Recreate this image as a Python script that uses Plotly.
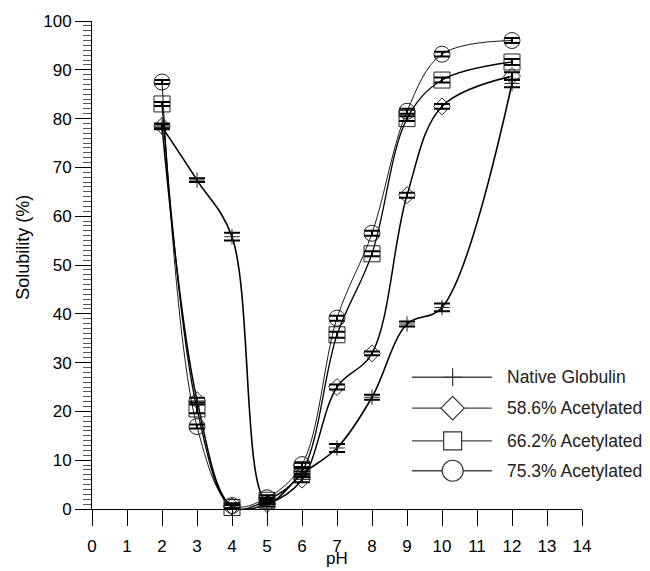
import plotly.graph_objects as go

# ---- data ----
ph = [2, 3, 4, 5, 6, 7, 8, 9, 10, 12]
native = [78.3, 67.4, 55.8, 1.5, 7.2, 12.5, 22.9, 37.9, 41.3, 87.2]
ac586 = [78.5, 22.3, 0.5, 1.0, 6.0, 25.0, 31.9, 64.3, 82.5, 88.7]
ac662 = [83.0, 20.5, 0.3, 1.8, 7.7, 35.7, 52.3, 80.0, 87.9, 91.6]
ac753 = [87.5, 16.9, 0.7, 2.3, 9.1, 39.1, 56.5, 81.5, 93.2, 96.0]
err_native = [0.5, 0.4, 0.8, 0.5, 0.5, 0.8, 0.5, 0.5, 0.8, 0.8]
err_586 = [0.5, 0.5, 0.5, 0.5, 0.5, 0.5, 0.4, 0.5, 0.5, 0.8]
err_662 = [0.4, 0.9, 0.5, 0.5, 0.6, 0.6, 0.5, 0.5, 0.5, 0.6]
err_753 = [0.4, 0.4, 0.5, 0.5, 0.5, 0.5, 0.5, 0.5, 0.5, 0.5]
series_names = ["Native Globulin", "58.6% Acetylated", "66.2% Acetylated", "75.3% Acetylated"]
x_ticks = list(range(0, 15))
x_title = "pH"
y_title = "Solubility (%)"

FONT = "Liberation Sans, Arial, Helvetica, sans-serif"

styles = [
    dict(y=native, err=err_native, sym="cross-thin-open", size=11, lw=1.6, legsize=13),
    dict(y=ac586, err=err_586, sym="diamond-open", size=13, lw=1.5, legsize=18),
    dict(y=ac662, err=err_662, sym="square-open", size=16, lw=1.3, legsize=18),
    dict(y=ac753, err=err_753, sym="circle-open", size=16, lw=0.9, legsize=21),
]

fig = go.Figure()
for name, st in zip(series_names, styles):
    fig.add_trace(go.Scatter(
        x=ph, y=st["y"], mode="lines+markers", name=name,
        line=dict(shape="spline", smoothing=1.0, color="black", width=st["lw"]),
        marker=dict(symbol=st["sym"], size=st["size"], color="#222",
                    line=dict(width=1, color="#222")),
        error_y=dict(type="data", array=st["err"], visible=True,
                     color="black", thickness=2, width=8),
        cliponaxis=False, showlegend=False,
    ))

# ---- hand-drawn legend on an overlay axis (fractions of the plot area) ----
leg_rows = [0.270, 0.2067, 0.1398, 0.0784]
leg_x0, leg_xm, leg_x1, leg_tx = 0.653, 0.736, 0.816, 0.843
for name, st, ry in zip(series_names, styles, leg_rows):
    fig.add_trace(go.Scatter(
        x=[leg_x0, leg_x1], y=[ry, ry], mode="lines", xaxis="x2", yaxis="y2",
        line=dict(color="#444", width=1.3), showlegend=False, hoverinfo="skip"))
    if st["sym"] == "cross-thin-open":
        mk = dict(symbol="cross-thin-open", size=st["legsize"], color="#333",
                  line=dict(width=1.2, color="#333"))
    else:
        mk = dict(symbol=st["sym"].replace("-open", ""), size=st["legsize"],
                  color="white", line=dict(width=1.2, color="#333"))
    fig.add_trace(go.Scatter(
        x=[leg_xm], y=[ry], mode="markers", xaxis="x2", yaxis="y2",
        marker=mk, showlegend=False, hoverinfo="skip", cliponaxis=False))
    fig.add_annotation(x=leg_tx, y=ry, xref="x2", yref="y2", text=name,
                       showarrow=False, xanchor="left", yanchor="middle",
                       font=dict(family=FONT, size=17.5, color="#222"))

# axis titles as annotations (positions relative to the plot area)
fig.add_annotation(x=0.5, y=-0.1235, xref="paper", yref="paper", text=x_title,
                   showarrow=False, xanchor="center", yanchor="bottom",
                   borderpad=0,
                   font=dict(family=FONT, size=17, color="black"))
fig.add_annotation(x=-0.141, y=0.537, xref="paper", yref="paper", text=y_title,
                   showarrow=False, xanchor="center", yanchor="middle", textangle=-90,
                   font=dict(family=FONT, size=18, color="black"))

# the page body adds an 8px offset, so the figure is 8px smaller than the window
fig.update_layout(
    width=642, height=563,
    margin=dict(l=84, r=68, t=13, b=62),
    paper_bgcolor="white", plot_bgcolor="white",
    font=dict(family=FONT, size=17, color="black"),
    showlegend=False,
    xaxis=dict(range=[0, 14], tickvals=x_ticks, ticks="outside", ticklen=16,
               tickwidth=1, tickcolor="black", showline=True, linecolor="black",
               linewidth=1, showgrid=False, zeroline=False, ticklabelstandoff=6,
               automargin=False),
    yaxis=dict(range=[0, 100], dtick=10, ticks="outside", ticklen=16,
               tickwidth=1, tickcolor="black", showline=True, linecolor="black",
               linewidth=1, showgrid=False, zeroline=False, ticklabelstandoff=0,
               automargin=False,
               minor=dict(dtick=1, ticks="outside", ticklen=8, tickwidth=1,
                          tickcolor="#555", showgrid=False)),
    xaxis2=dict(overlaying="x", range=[0, 1], visible=False, anchor="y2",
                automargin=False),
    yaxis2=dict(overlaying="y", range=[0, 1], visible=False, anchor="x2",
                automargin=False),
)

fig.write_html("out.html")
